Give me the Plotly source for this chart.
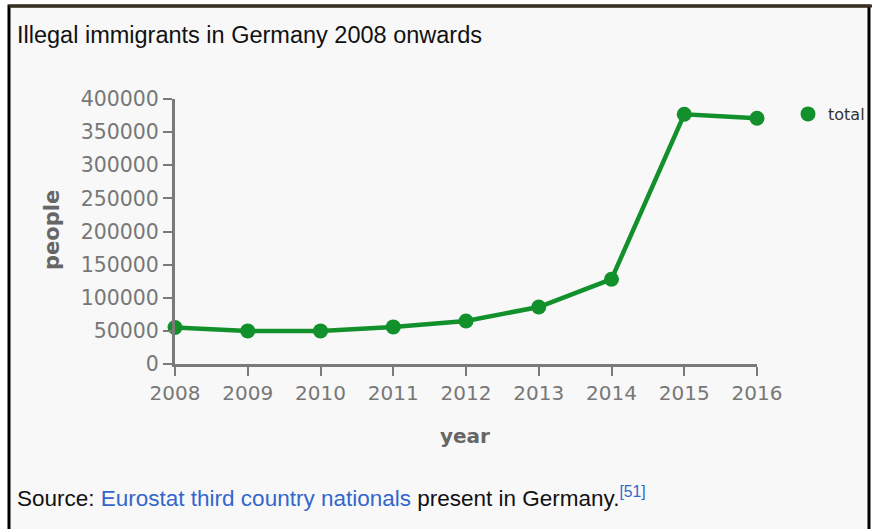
import plotly.graph_objects as go

years = [2008, 2009, 2010, 2011, 2012, 2013, 2014, 2015, 2016]
people = [55000, 50000, 50000, 56000, 65000, 86000, 128000, 377000, 371000]
series_name = "total"
y_ticks = [0, 50000, 100000, 150000, 200000, 250000, 300000, 350000, 400000]

W, H = 872, 529
L, R, T, B = 175, 115, 99, 165
pw, ph = W - L - R, H - T - B

def px(x):
    return (x - L) / pw

def py(y):
    return (H - B - y) / ph

green = "#12902c"
axis_grey = "#7a7a7a"
tick_font = dict(family="DejaVu Sans", size=20, color="#777777")

fig = go.Figure()
fig.add_trace(go.Scatter(
    x=years, y=people, name=series_name, mode="lines+markers",
    line=dict(color=green, width=4.5),
    marker=dict(color=green, size=15),
    cliponaxis=False, showlegend=False,
))
fig.add_trace(go.Scatter(
    x=[None], y=[None], name=series_name, mode="markers",
    marker=dict(color=green, size=15), showlegend=True,
))

fig.update_layout(
    width=W, height=H,
    margin=dict(l=L, r=R, t=T, b=B, pad=0, autoexpand=False),
    paper_bgcolor="white",
    plot_bgcolor="rgba(0,0,0,0)",
    showlegend=True,
    legend=dict(x=px(788), y=py(114), xanchor="left", yanchor="middle",
                font=dict(family="DejaVu Sans", size=16, color="#333333"),
                bgcolor="rgba(0,0,0,0)", itemwidth=30),
    xaxis=dict(range=[2008, 2016], tickvals=years, ticktext=[str(y) for y in years],
               showgrid=False, zeroline=False, showline=True, linecolor=axis_grey, linewidth=3,
               ticks="outside", ticklen=9, tickwidth=2, tickcolor=axis_grey,
               tickfont=tick_font, fixedrange=True),
    yaxis=dict(range=[0, 400000], tickvals=y_ticks, ticktext=[str(v) for v in y_ticks],
               showgrid=False, zeroline=False, showline=True, linecolor=axis_grey, linewidth=3,
               ticks="outside", ticklen=9, tickwidth=2, tickcolor=axis_grey,
               tickfont=dict(family="DejaVu Sans", size=20.5, color="#777777"), fixedrange=True),
    shapes=[
        dict(type="rect", xref="paper", yref="paper", layer="below",
             x0=px(9), x1=px(869), y0=py(545), y1=py(6),
             fillcolor="#f8f8f8", line=dict(color="black", width=3)),
        dict(type="line", xref="paper", yref="paper", layer="below",
             x0=px(9), x1=px(872), y0=py(6), y1=py(6),
             line=dict(color="#3a3020", width=3)),
    ],
    annotations=[
        dict(text="Illegal immigrants in Germany 2008 onwards", xref="paper", yref="paper",
             x=px(15), y=py(35), xanchor="left", yanchor="middle", showarrow=False,
             font=dict(family="Liberation Sans", size=23.5, color="#111111")),
        dict(text="people", xref="paper", yref="paper", x=px(52), y=py(230),
             xanchor="center", yanchor="middle", textangle=-90, showarrow=False,
             font=dict(family="DejaVu Sans", size=21, color="#666666", weight="bold")),
        dict(text="year", xref="paper", yref="paper", x=px(465), y=py(436),
             xanchor="center", yanchor="middle", showarrow=False,
             font=dict(family="DejaVu Sans", size=20, color="#666666", weight="bold")),
        dict(text="Source: <span style='color:#3366cc'>Eurostat third country nationals</span> present in Germany.<sup><span style='color:#3366cc'>[51]</span></sup>",
             xref="paper", yref="paper", x=px(15), y=py(497), xanchor="left", yanchor="middle",
             showarrow=False, font=dict(family="Liberation Sans", size=22.5, color="#111111")),
    ],
)

fig.write_html("out.html", config={"displayModeBar": False},
               post_script="document.body.style.margin='0px';")
